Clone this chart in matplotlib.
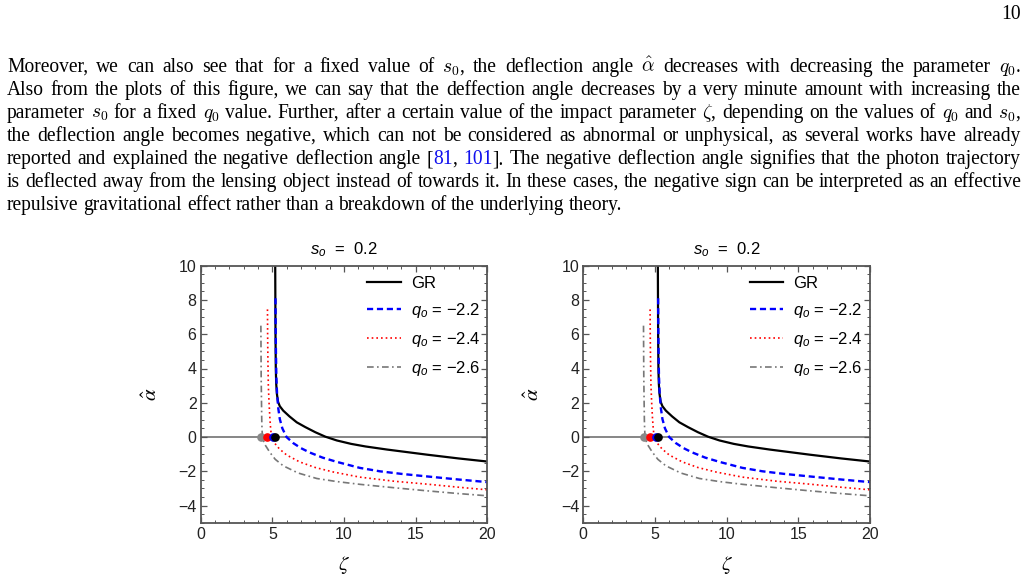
import re
import matplotlib
matplotlib.use('Agg')
import matplotlib.pyplot as plt
from matplotlib.ticker import MultipleLocator

# curves: impact parameter zeta vs deflection angle
zeta_gr = [5.20, 5.21, 5.22, 5.24, 5.27, 5.32, 5.40, 5.52, 5.76, 6.2, 6.7, 7.3, 8.0, 8.7,
           9.5, 10.5, 11.5, 13.0, 15.8, 18.0, 20.0]
alpha_gr = [10.0, 8.0, 6.0, 4.0, 3.1, 2.5, 2.05, 1.8, 1.54, 1.2, 0.86, 0.58, 0.28, 0.02,
            -0.2, -0.4, -0.55, -0.73, -1.03, -1.25, -1.43]

zeta_q22 = [5.22, 5.23, 5.25, 5.28, 5.33, 5.41, 5.52, 5.7, 5.99, 6.45, 7.0, 7.6, 8.5, 9.5,
            11.1, 12.5, 14.0, 15.8, 18.0, 20.0]
alpha_q22 = [8.1, 6.5, 5.0, 3.5, 2.5, 1.7, 1.05, 0.5, 0.0, -0.35, -0.65, -0.9, -1.2, -1.45,
             -1.8, -2.0, -2.15, -2.3, -2.48, -2.63]

zeta_q24 = [4.66, 4.67, 4.69, 4.72, 4.77, 4.83, 4.88, 4.94, 5.1, 5.5, 6.0, 6.9, 8.0, 9.25,
            11.1, 13.5, 15.8, 18.0, 20.0]
alpha_q24 = [7.45, 6.0, 4.5, 3.0, 2.0, 1.05, 0.5, 0.0, -0.3, -0.7, -1.05, -1.45, -1.78, -2.04,
             -2.34, -2.58, -2.75, -2.93, -3.08]

zeta_q26 = [4.20, 4.21, 4.22, 4.24, 4.26, 4.28, 4.31, 4.45, 4.83, 5.2, 5.76, 6.8, 8.1, 9.5,
            11.1, 13.5, 15.8, 18.0, 20.0]
alpha_q26 = [6.5, 5.0, 3.5, 2.2, 1.0, 0.45, 0.0, -0.4, -0.9, -1.3, -1.68, -2.1, -2.42, -2.6,
             -2.76, -2.96, -3.14, -3.3, -3.43]

# critical impact parameters (dots on the axis)
dot_zeta = [4.20, 4.66, 5.06, 5.20]
dot_colors = ['#888888', 'red', 'blue', 'black']

panel_titles = [r'$s_o$  =  0.2', r'$s_o$  =  0.2']
legend_labels = ['GR', r'$q_o$ = $-$2.2', r'$q_o$ = $-$2.4', r'$q_o$ = $-$2.6']

paragraph = [
    r"Moreover, we can also see that for a fixed value of $s_0$, the deflection angle $\hat{\alpha}$ decreases with decreasing the parameter $q_0$.",
    r"Also from the plots of this figure, we can say that the deffection angle decreases by a very minute amount with increasing the",
    r"parameter $s_0$ for a fixed $q_0$ value. Further, after a certain value of the impact parameter $\zeta$, depending on the values of $q_0$ and $s_0$,",
    r"the deflection angle becomes negative, which can not be considered as abnormal or unphysical, as several works have already",
    r"reported and explained the negative deflection angle [<81>, <101>]. The negative deflection angle signifies that the photon trajectory",
    r"is deflected away from the lensing object instead of towards it. In these cases, the negative sign can be interpreted as an effective",
    r"repulsive gravitational effect rather than a breakdown of the underlying theory.",
]

plt.rcParams['font.family'] = 'Liberation Sans'
plt.rcParams['mathtext.fontset'] = 'custom'
plt.rcParams['mathtext.rm'] = 'Liberation Sans'
plt.rcParams['mathtext.it'] = 'Liberation Sans:italic'

W, H = 1028, 578
fig = plt.figure(figsize=(W / 100, H / 100), dpi=100)
renderer = fig.canvas.get_renderer()

LEFT, RIGHT = 7, 1021
BASE0, LEAD = 72, 23.0


def put(x, y, s, fs, color='black'):
    return fig.text(x / W, 1 - y / H, s, fontsize=fs, family='Liberation Serif',
                    color=color, ha='left', va='baseline', math_fontfamily='cm')


def width(s, fs):
    t = put(0, 0, s, fs)
    w = t.get_window_extent(renderer).width
    t.remove()
    return w


def segments(word):
    out = []
    for i, part in enumerate(re.split(r'<([^>]*)>', word)):
        if part:
            out.append((part, '#1010ee' if i % 2 else 'black'))
    return out


# pick the font size so the widest justified line just fits the text block
fs0 = 12.0
widest = max(width(l.replace('<', '').replace('>', ''), fs0) for l in paragraph[:-1])
FS = fs0 * (RIGHT - LEFT) / widest * 0.99

for i, line in enumerate(paragraph):
    y = BASE0 + i * LEAD
    words = [segments(w) for w in line.split(' ')]
    texts = []
    widths = []
    for w in words:
        ts = [put(0, y, s, FS, c) for s, c in w]
        texts.append(ts)
        widths.append([t.get_window_extent(renderer).width for t in ts])
    if i == len(paragraph) - 1:
        space = width('a b', FS) - width('ab', FS)
    else:
        space = (RIGHT - LEFT - sum(sum(ws) for ws in widths)) / (len(words) - 1)
    x = LEFT
    for ts, ws in zip(texts, widths):
        for t, wd in zip(ts, ws):
            t.set_x(x / W)
            x += wd
        x += space

fig.text(1021 / W, 1 - 19 / H, '10', fontsize=FS, family='Liberation Serif',
         ha='right', va='baseline')

frame_col = '#555555'


def draw_panel(ax, title):
    ax.axhline(0, color='#666666', lw=1.1, zorder=1)
    ax.plot(zeta_gr, alpha_gr, color='black', lw=1.6, label=legend_labels[0])
    ax.plot(zeta_q22, alpha_q22, color='blue', lw=1.7, ls=(0, (2.6, 1.6)),
            label=legend_labels[1])
    ax.plot(zeta_q24, alpha_q24, color='red', lw=1.2, ls=(0, (1, 1.8)),
            label=legend_labels[2])
    ax.plot(zeta_q26, alpha_q26, color='#777777', lw=1.2, ls=(0, (4, 2, 1, 2)),
            label=legend_labels[3])
    for z, c in zip(dot_zeta, dot_colors):
        ax.plot([z], [0], 'o', color=c, ms=5.2, zorder=5)
    ax.set_xlim(0, 20)
    ax.set_ylim(-5, 10)
    ax.xaxis.set_major_locator(MultipleLocator(5))
    ax.xaxis.set_minor_locator(MultipleLocator(1))
    ax.yaxis.set_major_locator(MultipleLocator(2))
    ax.yaxis.set_minor_locator(MultipleLocator(0.5))
    ax.tick_params(which='both', direction='in', top=True, right=True,
                   color=frame_col, labelsize=11.5, labelcolor='#222222', pad=3)
    ax.tick_params(which='major', length=4, width=0.9)
    ax.tick_params(which='minor', length=2.2, width=0.7)
    for sp in ax.spines.values():
        sp.set_color(frame_col)
        sp.set_linewidth(1.3)
    ax.set_title(title, fontsize=12, pad=8)
    ax.set_xlabel(r'$\zeta$', fontsize=15, math_fontfamily='stix')
    ax.set_ylabel(r'$\hat{\alpha}$', fontsize=15, math_fontfamily='stix', rotation=90)
    ax.xaxis.set_label_coords(0.5, -0.12)
    ax.yaxis.set_label_coords(-0.14, 0.5)
    ax.legend(loc='upper right', bbox_to_anchor=(0.975, 0.96), frameon=False,
              fontsize=12, handlelength=2.0, handletextpad=0.6, labelspacing=0.6,
              borderpad=0, borderaxespad=0)


axL = fig.add_axes([200.7 / W, 1 - 522.7 / H, 286.6 / W, 257 / H])
axR = fig.add_axes([583.3 / W, 1 - 522.7 / H, 286.7 / W, 257 / H])
draw_panel(axL, panel_titles[0])
draw_panel(axR, panel_titles[1])

fig.savefig('out.png', dpi=100)
